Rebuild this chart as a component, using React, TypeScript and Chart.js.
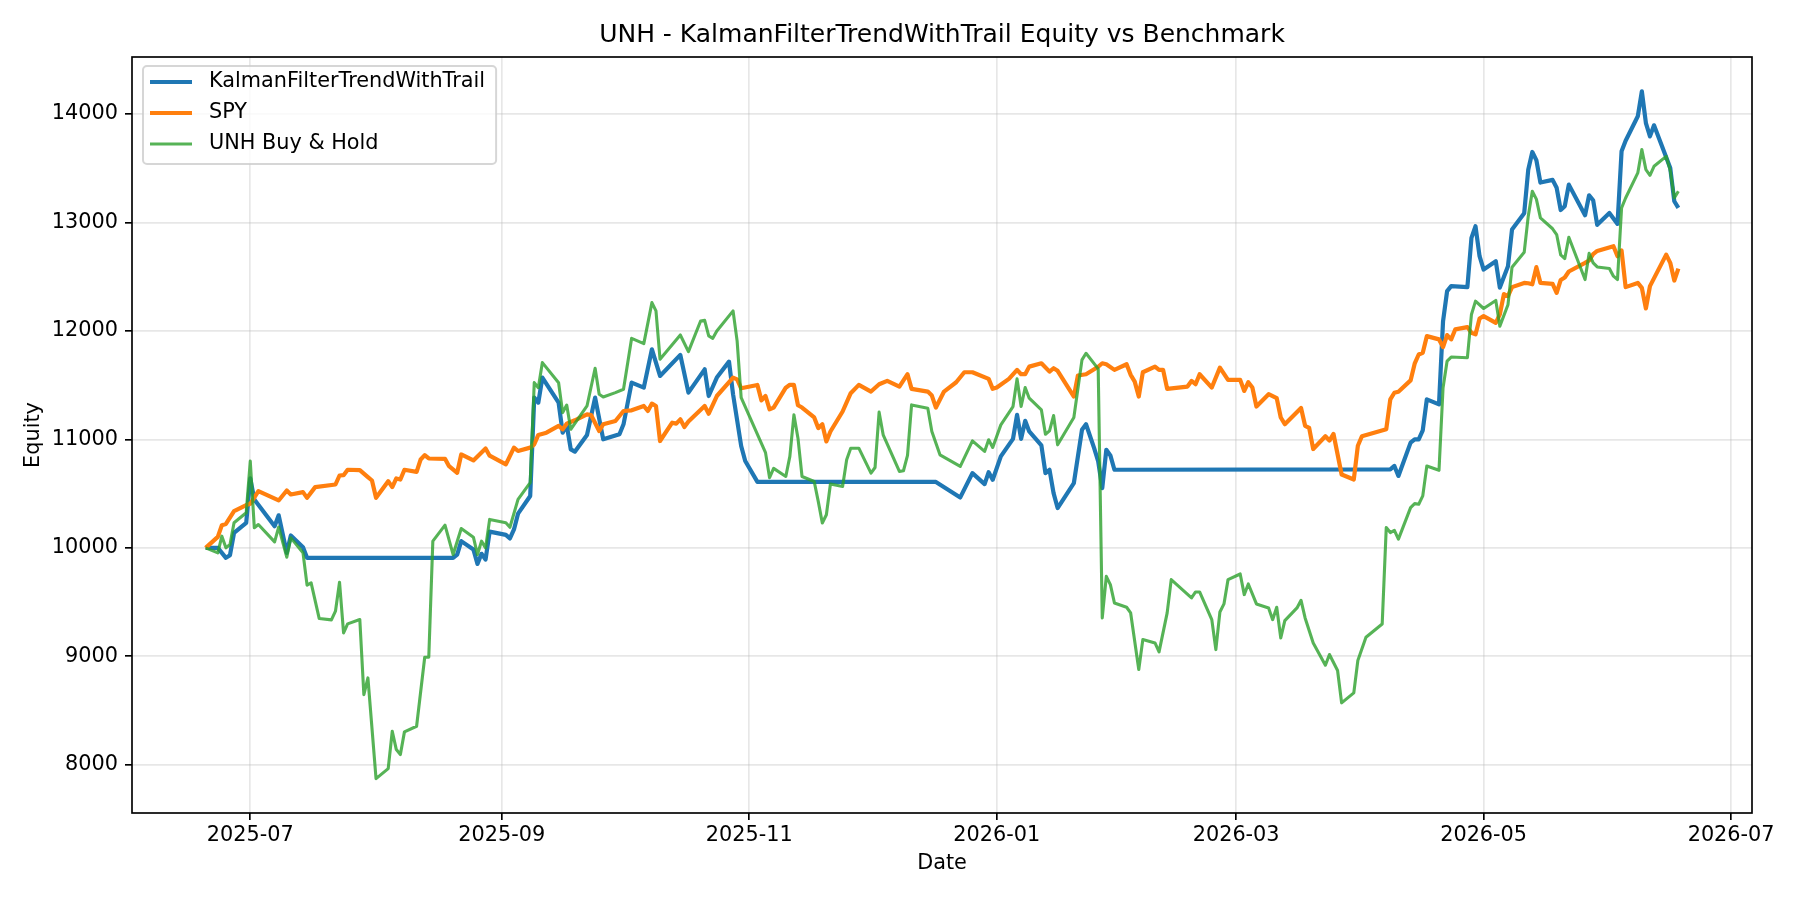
import React, { useEffect, useRef } from "react";
import { Chart, registerables } from "chart.js";

Chart.register(...registerables);

const chartTitle = "UNH - KalmanFilterTrendWithTrail Equity vs Benchmark";
const seriesNames = ["KalmanFilterTrendWithTrail", "SPY", "UNH Buy & Hold"];
const xAxisLabel = "Date";
const yAxisLabel = "Equity";
const xTickDates = ["2025-07-01", "2025-09-01", "2025-11-01", "2026-01-01", "2026-03-01", "2026-05-01", "2026-07-01"];
const xTickLabels = ["2025-07", "2025-09", "2025-11", "2026-01", "2026-03", "2026-05", "2026-07"];
const yTicks = [8000, 9000, 10000, 11000, 12000, 13000, 14000];

const kalmanDates = [
  "2025-06-20", "2025-06-23", "2025-06-25", "2025-06-26", "2025-06-27", "2025-06-30", "2025-07-01", "2025-07-02",
  "2025-07-07", "2025-07-08", "2025-07-10", "2025-07-11", "2025-07-14", "2025-07-15", "2025-08-20", "2025-08-21",
  "2025-08-22", "2025-08-25", "2025-08-26", "2025-08-27", "2025-08-28", "2025-08-29", "2025-09-02", "2025-09-03",
  "2025-09-04", "2025-09-05", "2025-09-08", "2025-09-09", "2025-09-10", "2025-09-11", "2025-09-15", "2025-09-16",
  "2025-09-17", "2025-09-18", "2025-09-19", "2025-09-22", "2025-09-24", "2025-09-26", "2025-09-30", "2025-10-01",
  "2025-10-03", "2025-10-06", "2025-10-08", "2025-10-10", "2025-10-15", "2025-10-17", "2025-10-21", "2025-10-22",
  "2025-10-24", "2025-10-27", "2025-10-28", "2025-10-30", "2025-10-31", "2025-11-03", "2025-12-17", "2025-12-23",
  "2025-12-26", "2025-12-29", "2025-12-30", "2025-12-31", "2026-01-02", "2026-01-05", "2026-01-06", "2026-01-07",
  "2026-01-08", "2026-01-09", "2026-01-12", "2026-01-13", "2026-01-14", "2026-01-15", "2026-01-16", "2026-01-20",
  "2026-01-22", "2026-01-23", "2026-01-25", "2026-01-26", "2026-01-27", "2026-01-28", "2026-01-29", "2026-01-30",
  "2026-04-08", "2026-04-09", "2026-04-10", "2026-04-13", "2026-04-14", "2026-04-15", "2026-04-16", "2026-04-17",
  "2026-04-20", "2026-04-21", "2026-04-22", "2026-04-23", "2026-04-27", "2026-04-28", "2026-04-29", "2026-04-30",
  "2026-05-01", "2026-05-04", "2026-05-05", "2026-05-07", "2026-05-08", "2026-05-11", "2026-05-12", "2026-05-13",
  "2026-05-14", "2026-05-15", "2026-05-18", "2026-05-19", "2026-05-20", "2026-05-21", "2026-05-22", "2026-05-26",
  "2026-05-27", "2026-05-28", "2026-05-29", "2026-06-01", "2026-06-03", "2026-06-04", "2026-06-05", "2026-06-08",
  "2026-06-09", "2026-06-10", "2026-06-11", "2026-06-12", "2026-06-15", "2026-06-16", "2026-06-17", "2026-06-18",
];
const kalmanValues = [
  10000, 10000, 9908, 9932, 10138, 10230, 10640, 10446,
  10200, 10300, 9954, 10114, 10006, 9908, 9908, 9938,
  10062, 9985, 9852, 9945, 9892, 10150, 10120, 10087,
  10170, 10315, 10478, 11385, 11339, 11570, 11339, 11062,
  11133, 10908, 10887, 11041, 11385, 11001, 11047, 11139,
  11523, 11477, 11831, 11585, 11779, 11431, 11646, 11400,
  11570, 11717, 11416, 10939, 10801, 10608, 10608, 10465,
  10689, 10588, 10698, 10628, 10843, 11005, 11226, 11005,
  11171, 11073, 10944, 10689, 10720, 10505, 10367, 10597,
  11088, 11140, 10919, 10797, 10551, 10904, 10852, 10720,
  10724, 10755, 10663, 10970, 11001, 11001, 11084, 11369,
  11323, 12090, 12367, 12413, 12404, 12858, 12965, 12689,
  12566, 12643, 12400, 12597, 12935, 13085, 13487, 13650,
  13575, 13368, 13393, 13320, 13115, 13150, 13349, 13067,
  13251, 13205, 12978, 13088, 12987, 13656, 13754, 13979,
  14209, 13917, 13794, 13896, 13601, 13503, 13196, 13134,
];

const spyDates = [
  "2025-06-20", "2025-06-23", "2025-06-24", "2025-06-25", "2025-06-27", "2025-06-30", "2025-07-01", "2025-07-03",
  "2025-07-08", "2025-07-10", "2025-07-11", "2025-07-14", "2025-07-15", "2025-07-17", "2025-07-22", "2025-07-23",
  "2025-07-24", "2025-07-25", "2025-07-28", "2025-07-30", "2025-07-31", "2025-08-01", "2025-08-04", "2025-08-05",
  "2025-08-06", "2025-08-07", "2025-08-08", "2025-08-11", "2025-08-12", "2025-08-13", "2025-08-14", "2025-08-18",
  "2025-08-19", "2025-08-21", "2025-08-22", "2025-08-25", "2025-08-28", "2025-08-29", "2025-09-02", "2025-09-04",
  "2025-09-05", "2025-09-08", "2025-09-09", "2025-09-10", "2025-09-12", "2025-09-15", "2025-09-16", "2025-09-17",
  "2025-09-19", "2025-09-22", "2025-09-23", "2025-09-25", "2025-09-26", "2025-09-29", "2025-10-01", "2025-10-03",
  "2025-10-06", "2025-10-07", "2025-10-08", "2025-10-09", "2025-10-10", "2025-10-13", "2025-10-14", "2025-10-15",
  "2025-10-16", "2025-10-17", "2025-10-21", "2025-10-22", "2025-10-24", "2025-10-28", "2025-10-29", "2025-10-30",
  "2025-11-03", "2025-11-04", "2025-11-05", "2025-11-06", "2025-11-07", "2025-11-10", "2025-11-11", "2025-11-12",
  "2025-11-13", "2025-11-14", "2025-11-17", "2025-11-18", "2025-11-19", "2025-11-20", "2025-11-21", "2025-11-24",
  "2025-11-26", "2025-11-28", "2025-12-01", "2025-12-03", "2025-12-05", "2025-12-08", "2025-12-10", "2025-12-11",
  "2025-12-15", "2025-12-16", "2025-12-17", "2025-12-19", "2025-12-22", "2025-12-24", "2025-12-26", "2025-12-30",
  "2025-12-31", "2026-01-01", "2026-01-04", "2026-01-06", "2026-01-07", "2026-01-08", "2026-01-09", "2026-01-12",
  "2026-01-14", "2026-01-15", "2026-01-16", "2026-01-20", "2026-01-21", "2026-01-23", "2026-01-26", "2026-01-27",
  "2026-01-28", "2026-01-30", "2026-02-02", "2026-02-03", "2026-02-04", "2026-02-05", "2026-02-06", "2026-02-09",
  "2026-02-10", "2026-02-11", "2026-02-12", "2026-02-17", "2026-02-18", "2026-02-19", "2026-02-20", "2026-02-23",
  "2026-02-25", "2026-02-27", "2026-03-02", "2026-03-03", "2026-03-04", "2026-03-05", "2026-03-06", "2026-03-09",
  "2026-03-11", "2026-03-12", "2026-03-13", "2026-03-17", "2026-03-18", "2026-03-19", "2026-03-20", "2026-03-23",
  "2026-03-24", "2026-03-25", "2026-03-27", "2026-03-30", "2026-03-31", "2026-04-01", "2026-04-07", "2026-04-08",
  "2026-04-09", "2026-04-10", "2026-04-13", "2026-04-14", "2026-04-15", "2026-04-16", "2026-04-17", "2026-04-20",
  "2026-04-21", "2026-04-22", "2026-04-23", "2026-04-24", "2026-04-27", "2026-04-28", "2026-04-29", "2026-04-30",
  "2026-05-01", "2026-05-04", "2026-05-05", "2026-05-06", "2026-05-07", "2026-05-08", "2026-05-11", "2026-05-12",
  "2026-05-13", "2026-05-14", "2026-05-15", "2026-05-18", "2026-05-19", "2026-05-20", "2026-05-21", "2026-05-22",
  "2026-05-26", "2026-05-27", "2026-05-28", "2026-05-29", "2026-06-02", "2026-06-03", "2026-06-04", "2026-06-05",
  "2026-06-08", "2026-06-09", "2026-06-10", "2026-06-11", "2026-06-15", "2026-06-16", "2026-06-17", "2026-06-18",
];
const spyValues = [
  10000, 10101, 10209, 10221, 10338, 10394, 10406, 10523,
  10437, 10529, 10492, 10514, 10461, 10560, 10584, 10667,
  10670, 10720, 10716, 10652, 10621, 10461, 10615, 10560,
  10640, 10630, 10720, 10701, 10815, 10855, 10824, 10821,
  10753, 10692, 10861, 10806, 10916, 10850, 10770, 10924,
  10893, 10924, 10955, 11041, 11062, 11124, 11093, 11145,
  11176, 11231, 11225, 11078, 11139, 11170, 11262, 11268,
  11308, 11262, 11330, 11308, 10985, 11154, 11145, 11185,
  11114, 11164, 11308, 11237, 11400, 11570, 11554, 11471,
  11502, 11360, 11400, 11277, 11293, 11477, 11503, 11502,
  11315, 11294, 11202, 11104, 11140, 10981, 11073, 11257,
  11426, 11503, 11441, 11509, 11540, 11487, 11601, 11466,
  11441, 11404, 11294, 11441, 11527, 11619, 11619, 11558,
  11466, 11478, 11558, 11641, 11601, 11601, 11671, 11702,
  11625, 11656, 11632, 11395, 11589, 11601, 11670, 11702,
  11693, 11641, 11693, 11595, 11533, 11395, 11619, 11671,
  11641, 11641, 11466, 11487, 11539, 11509, 11601, 11478,
  11662, 11549, 11549, 11447, 11527, 11478, 11303, 11417,
  11380, 11202, 11140, 11290, 11125, 11106, 10911, 11029,
  10989, 11050, 10676, 10630, 10941, 11029, 11093, 11369,
  11430, 11440, 11544, 11698, 11783, 11799, 11952, 11922,
  11851, 11962, 11922, 12014, 12035, 11983, 11968, 12115,
  12137, 12075, 12152, 12340, 12321, 12404, 12443, 12440,
  12430, 12588, 12443, 12434, 12351, 12470, 12493, 12548,
  12628, 12650, 12708, 12738, 12781, 12689, 12741, 12404,
  12443, 12397, 12207, 12413, 12704, 12628, 12465, 12575,
];

const unhDates = [
  "2025-06-20", "2025-06-23", "2025-06-24", "2025-06-25", "2025-06-26", "2025-06-27", "2025-06-30", "2025-07-01",
  "2025-07-02", "2025-07-03", "2025-07-07", "2025-07-08", "2025-07-10", "2025-07-11", "2025-07-14", "2025-07-15",
  "2025-07-16", "2025-07-18", "2025-07-21", "2025-07-22", "2025-07-23", "2025-07-24", "2025-07-25", "2025-07-28",
  "2025-07-29", "2025-07-30", "2025-08-01", "2025-08-04", "2025-08-05", "2025-08-06", "2025-08-07", "2025-08-08",
  "2025-08-11", "2025-08-13", "2025-08-14", "2025-08-15", "2025-08-18", "2025-08-20", "2025-08-22", "2025-08-25",
  "2025-08-26", "2025-08-27", "2025-08-28", "2025-08-29", "2025-09-02", "2025-09-03", "2025-09-05", "2025-09-08",
  "2025-09-09", "2025-09-10", "2025-09-11", "2025-09-15", "2025-09-16", "2025-09-17", "2025-09-18", "2025-09-22",
  "2025-09-24", "2025-09-25", "2025-09-26", "2025-09-29", "2025-10-01", "2025-10-03", "2025-10-06", "2025-10-08",
  "2025-10-09", "2025-10-10", "2025-10-15", "2025-10-17", "2025-10-20", "2025-10-21", "2025-10-22", "2025-10-23",
  "2025-10-24", "2025-10-28", "2025-10-29", "2025-10-30", "2025-11-05", "2025-11-06", "2025-11-07", "2025-11-10",
  "2025-11-11", "2025-11-12", "2025-11-13", "2025-11-14", "2025-11-17", "2025-11-18", "2025-11-19", "2025-11-20",
  "2025-11-21", "2025-11-24", "2025-11-25", "2025-11-26", "2025-11-28", "2025-12-01", "2025-12-02", "2025-12-03",
  "2025-12-04", "2025-12-08", "2025-12-09", "2025-12-10", "2025-12-11", "2025-12-15", "2025-12-16", "2025-12-18",
  "2025-12-23", "2025-12-26", "2025-12-29", "2025-12-30", "2025-12-31", "2026-01-02", "2026-01-05", "2026-01-06",
  "2026-01-07", "2026-01-08", "2026-01-09", "2026-01-12", "2026-01-13", "2026-01-14", "2026-01-15", "2026-01-16",
  "2026-01-20", "2026-01-22", "2026-01-23", "2026-01-26", "2026-01-27", "2026-01-28", "2026-01-29", "2026-01-30",
  "2026-02-02", "2026-02-03", "2026-02-05", "2026-02-06", "2026-02-09", "2026-02-10", "2026-02-12", "2026-02-13",
  "2026-02-18", "2026-02-19", "2026-02-20", "2026-02-23", "2026-02-24", "2026-02-25", "2026-02-26", "2026-02-27",
  "2026-03-02", "2026-03-03", "2026-03-04", "2026-03-06", "2026-03-09", "2026-03-10", "2026-03-11", "2026-03-12",
  "2026-03-13", "2026-03-16", "2026-03-17", "2026-03-18", "2026-03-20", "2026-03-23", "2026-03-24", "2026-03-26",
  "2026-03-27", "2026-03-30", "2026-03-31", "2026-04-02", "2026-04-06", "2026-04-07", "2026-04-08", "2026-04-09",
  "2026-04-10", "2026-04-13", "2026-04-14", "2026-04-15", "2026-04-16", "2026-04-17", "2026-04-20", "2026-04-21",
  "2026-04-22", "2026-04-23", "2026-04-27", "2026-04-28", "2026-04-29", "2026-05-01", "2026-05-04", "2026-05-05",
  "2026-05-07", "2026-05-08", "2026-05-11", "2026-05-12", "2026-05-13", "2026-05-14", "2026-05-15", "2026-05-18",
  "2026-05-19", "2026-05-20", "2026-05-21", "2026-05-22", "2026-05-26", "2026-05-27", "2026-05-28", "2026-05-29",
  "2026-06-01", "2026-06-02", "2026-06-03", "2026-06-04", "2026-06-05", "2026-06-08", "2026-06-09", "2026-06-10",
  "2026-06-11", "2026-06-12", "2026-06-15", "2026-06-16", "2026-06-17", "2026-06-18",
];
const unhValues = [
  10000, 9954, 10108, 10000, 10031, 10231, 10323, 10800,
  10185, 10215, 10055, 10191, 9914, 10092, 9954, 9656,
  9677, 9348, 9336, 9416, 9683, 9216, 9299, 9339,
  8647, 8801, 7872, 7964, 8309, 8140, 8094, 8303,
  8355, 8991, 8991, 10062, 10209, 9938, 10178, 10098,
  9938, 10062, 10000, 10262, 10232, 10190, 10447, 10601,
  11523, 11477, 11708, 11523, 11247, 11317, 11093, 11308,
  11656, 11416, 11391, 11431, 11462, 11932, 11883, 12261,
  12185, 11739, 11963, 11809, 12092, 12098, 11954, 11932,
  12000, 12185, 11908, 11385, 10878, 10647, 10733, 10658,
  10843, 11226, 11011, 10658, 10612, 10428, 10229, 10305,
  10588, 10566, 10812, 10919, 10919, 10689, 10741, 11251,
  11042, 10704, 10711, 10852, 11318, 11288, 11073, 10858,
  10751, 10987, 10889, 10996, 10926, 11134, 11303, 11558,
  11303, 11478, 11380, 11272, 11048, 11079, 11220, 10950,
  11202, 11733, 11794, 11650, 9354, 9737, 9661, 9492,
  9452, 9400, 8878, 9154, 9123, 9041, 9400, 9707,
  9538, 9593, 9593, 9338, 9062, 9409, 9483, 9707,
  9759, 9569, 9667, 9483, 9446, 9338, 9452, 9169,
  9329, 9446, 9516, 9354, 9123, 8918, 9016, 8869,
  8571, 8663, 8961, 9176, 9298, 10187, 10141, 10162,
  10080, 10371, 10408, 10402, 10479, 10755, 10715, 11476,
  11722, 11759, 11753, 12152, 12275, 12207, 12281, 12044,
  12241, 12588, 12725, 13058, 13288, 13215, 13042, 12942,
  12889, 12701, 12668, 12864, 12474, 12715, 12628, 12590,
  12576, 12505, 12474, 13134, 13226, 13457, 13672, 13487,
  13435, 13518, 13610, 13478, 13226, 13288,
];

const seriesColors = ["#1f77b4", "#ff7f0e", "rgba(44,160,44,0.8)"];
const seriesWidths = [4.2, 4.2, 3.1];

const FONT = "'DejaVu Sans', 'Liberation Sans', sans-serif";
const FS = 20.8;

const toMs = (d: string) => Date.parse(d + "T00:00:00Z");
const toPoints = (dates: string[], values: number[]) => dates.map((d, i) => ({ x: toMs(d), y: values[i] }));

const frameLegendTitlePlugin = {
  id: "mplDecor",
  afterDatasetsDraw(chart: any) {
    const { ctx, chartArea: a } = chart;
    ctx.save();
    ctx.strokeStyle = "#000000";
    ctx.lineWidth = 1.67;
    ctx.strokeRect(a.left, a.top, a.right - a.left, a.bottom - a.top);
    ctx.restore();
  },
  afterDraw(chart: any) {
    const { ctx, chartArea: a } = chart;
    ctx.save();
    // title
    ctx.fillStyle = "#000000";
    ctx.font = `25px ${FONT}`;
    ctx.textAlign = "center";
    ctx.textBaseline = "middle";
    ctx.fillText(chartTitle, (a.left + a.right) / 2, 35);

    // legend
    ctx.font = `${FS}px ${FONT}`;
    const textW = Math.max(...seriesNames.map((n) => ctx.measureText(n).width));
    const bx = a.left + 11;
    const by = a.top + 9;
    const bw = 66 + textW + 11;
    const bh = 98;
    const r = 4;
    ctx.beginPath();
    ctx.moveTo(bx + r, by);
    ctx.lineTo(bx + bw - r, by);
    ctx.arcTo(bx + bw, by, bx + bw, by + r, r);
    ctx.lineTo(bx + bw, by + bh - r);
    ctx.arcTo(bx + bw, by + bh, bx + bw - r, by + bh, r);
    ctx.lineTo(bx + r, by + bh);
    ctx.arcTo(bx, by + bh, bx, by + bh - r, r);
    ctx.lineTo(bx, by + r);
    ctx.arcTo(bx, by, bx + r, by, r);
    ctx.closePath();
    ctx.fillStyle = "rgba(255,255,255,0.8)";
    ctx.fill();
    ctx.strokeStyle = "rgba(204,204,204,0.8)";
    ctx.lineWidth = 2;
    ctx.stroke();

    const rowOffsets = [16, 47, 78];
    seriesNames.forEach((name, i) => {
      const y = by + rowOffsets[i];
      ctx.beginPath();
      ctx.moveTo(bx + 7, y);
      ctx.lineTo(bx + 49, y);
      ctx.strokeStyle = seriesColors[i];
      ctx.lineWidth = seriesWidths[i];
      ctx.lineCap = "butt";
      ctx.stroke();
      ctx.fillStyle = "#000000";
      ctx.textAlign = "left";
      ctx.textBaseline = "middle";
      ctx.fillText(name, bx + 66, y);
    });
    ctx.restore();
  },
};

export default function App() {
  const canvasRef = useRef<HTMLCanvasElement | null>(null);

  useEffect(() => {
    document.body.style.margin = "0";
    const canvas = canvasRef.current;
    if (!canvas) return;

    const allMs = [...kalmanDates, ...spyDates, ...unhDates].map(toMs);
    const xMinData = Math.min(...allMs);
    const xMaxData = Math.max(...allMs);
    const xPad = (xMaxData - xMinData) * 0.05;
    const allY = [...kalmanValues, ...spyValues, ...unhValues];
    const yMinData = Math.min(...allY);
    const yMaxData = Math.max(...allY);
    const yPad = (yMaxData - yMinData) * 0.05;

    const seriesData = [
      toPoints(kalmanDates, kalmanValues),
      toPoints(spyDates, spyValues),
      toPoints(unhDates, unhValues),
    ];

    const chart = new Chart(canvas, {
      type: "line",
      data: {
        datasets: seriesData.map((pts, i) => ({
          label: seriesNames[i],
          data: pts,
          borderColor: seriesColors[i],
          backgroundColor: seriesColors[i],
          borderWidth: seriesWidths[i],
          pointRadius: 0,
          pointHoverRadius: 0,
          tension: 0,
          fill: false,
          borderJoinStyle: "round" as const,
          order: 3 - i,
        })),
      },
      options: {
        animation: false,
        responsive: false,
        devicePixelRatio: 1,
        events: [],
        layout: { padding: { top: 57, right: 48, left: 0, bottom: 0 } },
        plugins: {
          legend: { display: false },
          title: { display: false },
          tooltip: { enabled: false },
        },
        scales: {
          x: {
            type: "linear",
            min: xMinData - xPad,
            max: xMaxData + xPad,
            afterBuildTicks: (scale: any) => {
              scale.ticks = xTickDates.map((d) => ({ value: toMs(d) }));
            },
            afterFit: (scale: any) => {
              scale.height = 87;
            },
            grid: {
              color: "rgba(176,176,176,0.3)",
              lineWidth: 1.67,
              drawTicks: true,
              tickLength: 7,
              tickColor: "#000000",
              tickWidth: 1.67,
            },
            border: { display: false },
            ticks: {
              autoSkip: false,
              maxRotation: 0,
              minRotation: 0,
              padding: 3,
              color: "#000000",
              font: { family: FONT, size: FS },
              callback: (_v: any, i: number) => xTickLabels[i],
            },
            title: {
              display: true,
              text: xAxisLabel,
              color: "#000000",
              font: { family: FONT, size: FS },
              padding: { top: 0, bottom: 23.5 },
            },
          },
          y: {
            type: "linear",
            min: yMinData - yPad,
            max: yMaxData + yPad,
            afterBuildTicks: (scale: any) => {
              scale.ticks = yTicks.map((v) => ({ value: v }));
            },
            afterFit: (scale: any) => {
              scale.width = 132;
            },
            grid: {
              color: "rgba(176,176,176,0.3)",
              lineWidth: 1.67,
              drawTicks: true,
              tickLength: 7,
              tickColor: "#000000",
              tickWidth: 1.67,
            },
            border: { display: false },
            ticks: {
              padding: 7,
              color: "#000000",
              font: { family: FONT, size: FS },
              callback: (v: any) => String(v),
            },
            title: {
              display: true,
              text: yAxisLabel,
              color: "#000000",
              font: { family: FONT, size: FS },
              padding: { top: 21.5, bottom: 0 },
            },
          },
        },
      },
      plugins: [frameLegendTitlePlugin],
    });

    return () => {
      chart.destroy();
    };
  }, []);

  return (
    <div style={{ position: "fixed", left: 0, top: 0, width: 1800, height: 900, background: "#ffffff" }}>
      <canvas ref={canvasRef} width={1800} height={900} style={{ display: "block", width: 1800, height: 900 }} />
    </div>
  );
}
